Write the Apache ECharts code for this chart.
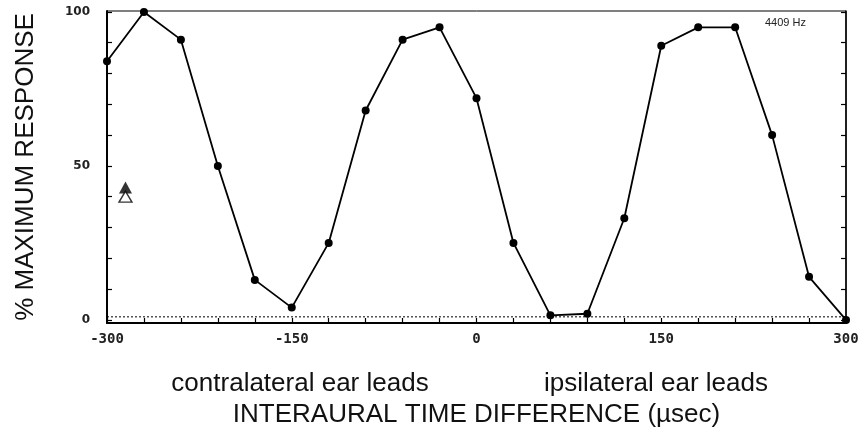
<!DOCTYPE html>
<html>
<head>
<meta charset="utf-8">
<script src="https://cdn.jsdelivr.net/npm/echarts@6/dist/echarts.min.js"></script>
<style>
html,body{margin:0;padding:0;background:#fff;}
#chart{width:865px;height:436px;}
</style>
</head>
<body>
<div id="chart"></div>
<script>
// Interaural time difference (µsec)
const timeUs = [-300,-270,-240,-210,-180,-150,-120,-90,-60,-30,0,30,60,90,120,150,180,210,240,270,300];
// % maximum response
const responsePct = [84,100,91,50,13,4,25,68,91,95,72,25,1.5,2,33,89,95,95,60,14,0];
// Triangle markers
const filledTriangle = [[-285,43]];
const openTriangle = [[-285,40]];
// Spontaneous baseline (dotted)
const baselineX = [-300,300];
const baselineY = [1,1];
// Tick values
const xTickLabels = [-300,-150,0,150,300];
const xTicks = [-300,-270,-240,-210,-180,-150,-120,-90,-60,-30,0,30,60,90,120,150,180,210,240,270,300];
const yTickLabels = [0,50,100];
const yTicks = [0,10,20,30,40,50,60,70,80,90,100];
const freqLabel = '4409 Hz';
const subLabels = ['contralateral ear leads','ipsilateral ear leads'];

const chart = echarts.init(document.getElementById('chart'), null, {renderer:'canvas'});
const FONT = '"Liberation Sans", Arial, sans-serif';
const option = {
  animation:false,
  backgroundColor:'#fff',
  grid:{left:107,right:19,top:11,bottom:113,show:true,borderColor:'#000',borderWidth:1},
  xAxis:{
    type:'value',min:-300,max:300,
    name:'INTERAURAL TIME DIFFERENCE (\u00b5sec)',
    nameLocation:'middle',nameGap:79,
    nameTextStyle:{fontFamily:FONT,fontSize:26,color:'#111'},
    axisLine:{show:true,onZero:false,lineStyle:{color:'#000',width:2}},
    axisTick:{show:true,inside:true,length:5,customValues:xTicks,lineStyle:{color:'#000',width:1.2}},
    axisLabel:{customValues:xTickLabels,margin:9,fontFamily:'"DejaVu Sans Mono", monospace',fontWeight:'bold',fontSize:14,color:'#222'},
    splitLine:{show:false}
  },
  yAxis:[{
    type:'value',min:-1,max:100.3,
    name:'% MAXIMUM RESPONSE',
    nameLocation:'middle',nameGap:68,nameRotate:90,
    nameTextStyle:{fontFamily:FONT,fontSize:26,color:'#111'},
    axisLine:{show:true,onZero:false,lineStyle:{color:'#000',width:2}},
    axisTick:{show:true,inside:true,length:5,customValues:yTicks,lineStyle:{color:'#000',width:1.2}},
    axisLabel:{customValues:yTickLabels,margin:17,fontFamily:'"DejaVu Sans", sans-serif',fontWeight:'bold',fontSize:12,color:'#222'},
    splitLine:{show:false}
  },{
    type:'value',min:-1,max:100.3,position:'right',
    axisLine:{show:true,onZero:false,lineStyle:{color:'#000',width:1.5}},
    axisTick:{show:true,inside:true,length:5,customValues:yTicks,lineStyle:{color:'#000',width:1.2}},
    axisLabel:{show:false},
    splitLine:{show:false}
  }],
  graphic:[
    {type:'text',left:765,top:17,style:{text:freqLabel,font:'11px "Liberation Sans", Arial, sans-serif',fill:'#222'}},
    {type:'text',x:300,y:384,style:{text:subLabels[0],font:'26px "Liberation Sans", Arial, sans-serif',fill:'#111',textAlign:'center',textVerticalAlign:'middle'}},
    {type:'text',x:656,y:384,style:{text:subLabels[1],font:'26px "Liberation Sans", Arial, sans-serif',fill:'#111',textAlign:'center',textVerticalAlign:'middle'}}
  ],
  series:[
    {
      type:'line',
      data:baselineX.map((x,i)=>[x,baselineY[i]]),
      symbol:'none',
      lineStyle:{color:'#000',width:1,type:[2,2]},
      z:1
    },
    {
      type:'line',
      data:timeUs.map((x,i)=>[x,responsePct[i]]),
      symbol:'circle',symbolSize:8,
      itemStyle:{color:'#000'},
      lineStyle:{color:'#000',width:1.8},
      z:3
    },
    {
      type:'scatter',data:filledTriangle,symbol:'triangle',symbolSize:[13,12],
      itemStyle:{color:'#000'},z:4
    },
    {
      type:'scatter',data:openTriangle,symbol:'triangle',symbolSize:[13,11],
      itemStyle:{color:'#fff',borderColor:'#000',borderWidth:1.4},z:4
    }
  ]
};
chart.setOption(option);
</script>
</body>
</html>
